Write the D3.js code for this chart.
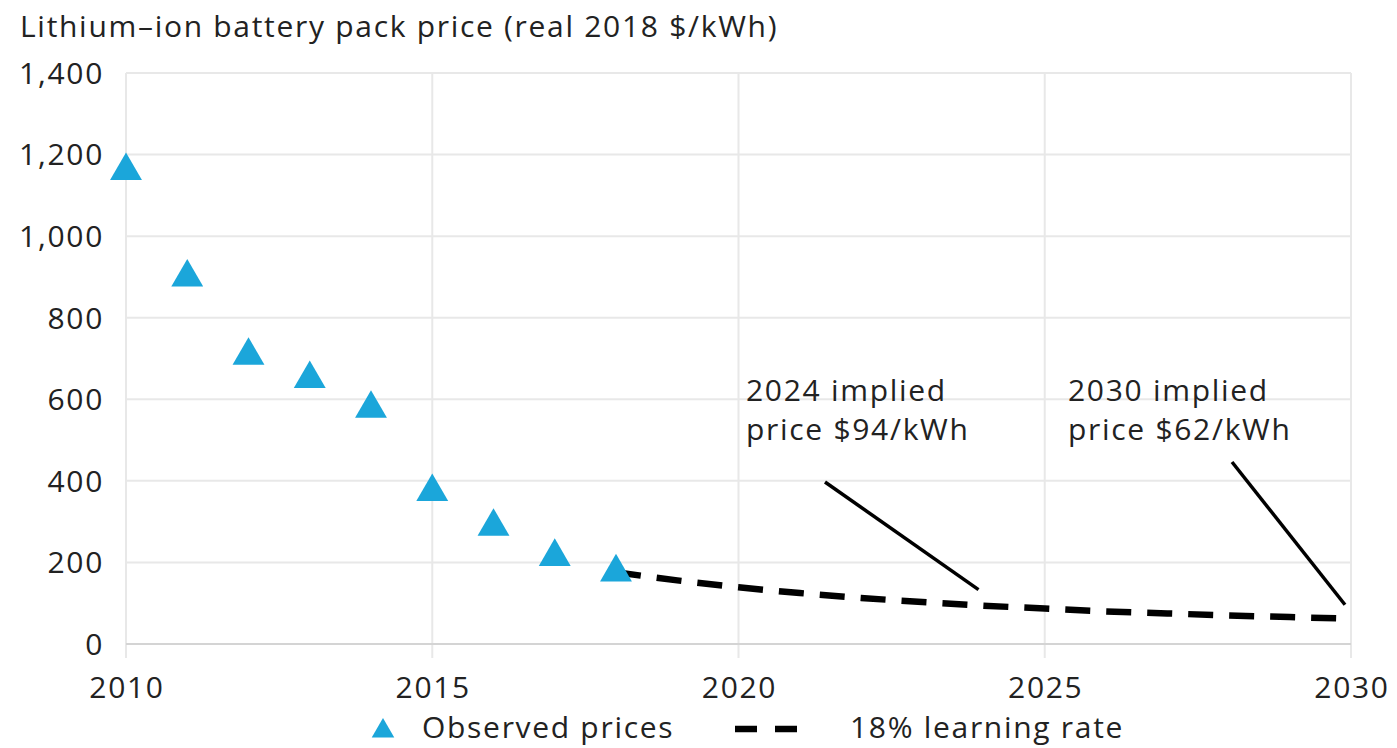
<!DOCTYPE html>
<html><head><meta charset="utf-8">
<script src="https://cdn.jsdelivr.net/npm/d3@7"></script>
<style>body{margin:0;background:#fff;} svg{display:block;} text{font-family:"Open Sans", Lato, sans-serif;fill:#222;}</style>
</head><body>
<svg id="c" width="1397" height="748"></svg>
<script>
const observedYears = [2010, 2011, 2012, 2013, 2014, 2015, 2016, 2017, 2018];
const observedPrices = [1160, 899, 707, 650, 577, 373, 288, 214, 176];
const learningYears = [2018, 2019, 2020, 2021, 2022, 2023, 2024, 2025, 2026, 2027, 2028, 2029, 2030];
const learningPrices = [176, 156, 139, 125, 113, 103, 94, 87, 80, 75, 70, 66, 62];
const xTicks = [2010, 2015, 2020, 2025, 2030];
const yTicks = [0, 200, 400, 600, 800, 1000, 1200, 1400];
const yTitle = "Lithium\u2013ion battery pack price (real 2018 $/kWh)";
const annotations = [
  {lines: ["2024 implied", "price $94/kWh"], year: 2024, value: 94},
  {lines: ["2030 implied", "price $62/kWh"], year: 2030, value: 62}
];
const legendItems = ["Observed prices", "18% learning rate"];

const svg = d3.select("#c");
const x = d3.scaleLinear().domain([2010, 2030]).range([126, 1351]);
const y = d3.scaleLinear().domain([0, 1400]).range([644, 73]);
const blue = "#1ba6da";
const FS = 30, LS = "1.7px";

// gridlines
svg.append("g").selectAll("line").data(yTicks.filter(d => d > 0)).join("line")
  .attr("x1", x(2010)).attr("x2", x(2030)).attr("y1", d => y(d)).attr("y2", d => y(d))
  .attr("stroke", "#e8e8e8").attr("stroke-width", 2);
svg.append("g").selectAll("line").data(xTicks).join("line")
  .attr("x1", d => x(d)).attr("x2", d => x(d)).attr("y1", y(1400)).attr("y2", y(0) + 14)
  .attr("stroke", "#e8e8e8").attr("stroke-width", 2);
svg.append("line").attr("x1", x(2010)).attr("x2", x(2030)).attr("y1", y(0)).attr("y2", y(0))
  .attr("stroke", "#d4d4d4").attr("stroke-width", 2);

// y axis labels
const fmt = d3.format(",");
svg.append("g").selectAll("text").data(yTicks).join("text")
  .attr("x", 104).attr("y", d => y(d)).attr("dy", "0.36em").attr("text-anchor", "end")
  .attr("font-size", FS).attr("letter-spacing", LS).text(d => fmt(d));
// x axis labels
svg.append("g").selectAll("text").data(xTicks).join("text")
  .attr("x", d => x(d) + 1).attr("y", 698).attr("text-anchor", "middle")
  .attr("font-size", FS).attr("letter-spacing", LS).text(d => d);
// title
svg.append("text").attr("x", 20).attr("y", 37).attr("font-size", FS).attr("letter-spacing", LS).text(yTitle);

// learning rate line
const line = d3.line().x((d, i) => x(learningYears[i])).y(d => y(d)).curve(d3.curveMonotoneX);
svg.append("path").datum(learningPrices).attr("d", line).attr("fill", "none")
  .attr("stroke", "#000").attr("stroke-width", 6.5).attr("stroke-dasharray", "25,16");

// triangles
const tri = d3.symbol().type(d3.symbolTriangle).size(440);
svg.append("g").selectAll("path").data(observedPrices).join("path")
  .attr("d", tri).attr("fill", blue)
  .attr("transform", (d, i) => `translate(${x(observedYears[i])},${y(d)})`);

// annotations
const annPos = [{tx: 746, ty: 401, lx1: 825, ly1: 482, dx: -5, dy: -16},
                {tx: 1068, ty: 401, lx1: 1232, ly1: 462, dx: -6, dy: -14}];
annotations.forEach((a, i) => {
  const p = annPos[i];
  const t = svg.append("text").attr("x", p.tx).attr("y", p.ty).attr("font-size", FS).attr("letter-spacing", LS);
  a.lines.forEach((l, j) => t.append("tspan").attr("x", p.tx).attr("dy", j ? 39 : 0).text(l));
  svg.append("line").attr("x1", p.lx1).attr("y1", p.ly1)
    .attr("x2", x(a.year) + p.dx).attr("y2", y(a.value) + p.dy)
    .attr("stroke", "#000").attr("stroke-width", 3.5);
});

// legend
svg.append("path").attr("d", d3.symbol().type(d3.symbolTriangle).size(220)).attr("fill", blue)
  .attr("transform", "translate(383,731)");
svg.append("text").attr("x", 422).attr("y", 738).attr("font-size", FS).attr("letter-spacing", LS).text(legendItems[0]);
svg.append("line").attr("x1", 735).attr("x2", 797).attr("y1", 729).attr("y2", 729)
  .attr("stroke", "#000").attr("stroke-width", 6.5).attr("stroke-dasharray", "22,18");
svg.append("text").attr("x", 850).attr("y", 738).attr("font-size", FS).attr("letter-spacing", LS).text(legendItems[1]);
</script>
</body></html>
